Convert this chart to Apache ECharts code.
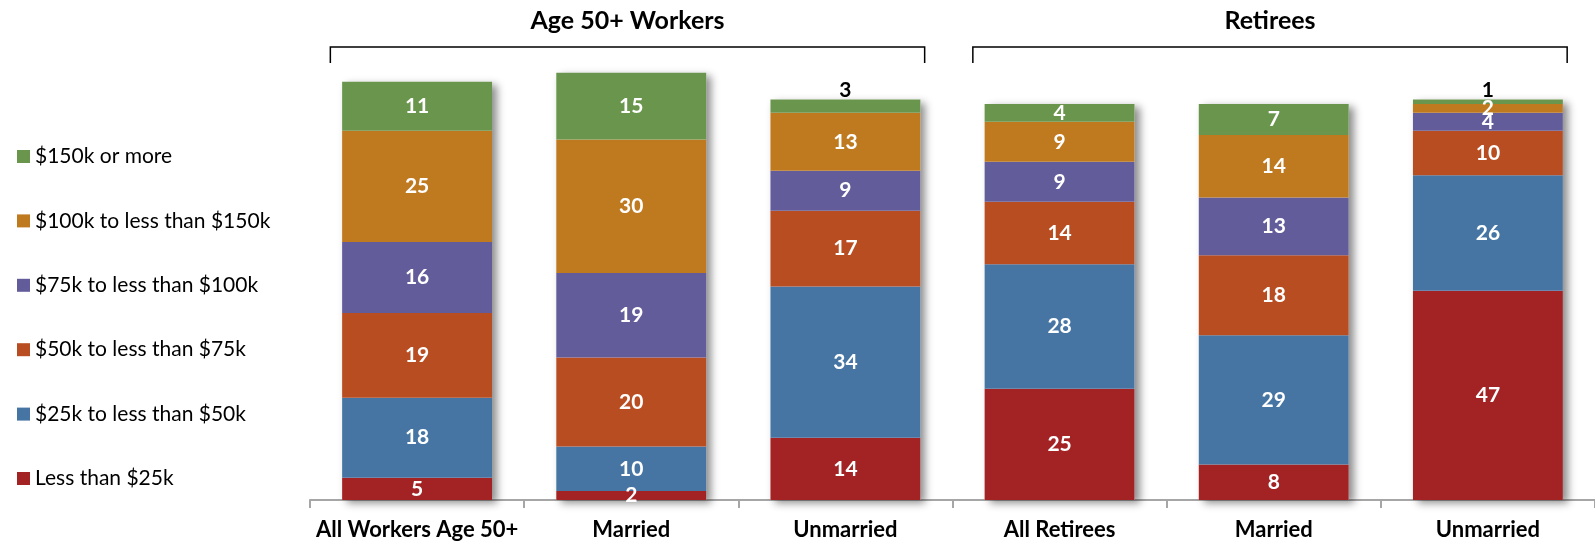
<!DOCTYPE html>
<html>
<head>
<meta charset="utf-8">
<script src="https://cdn.jsdelivr.net/npm/echarts@6/dist/echarts.min.js"></script>
<style>
  html, body { margin: 0; padding: 0; background: #ffffff; }
  #chart { width: 1595px; height: 545px; }
</style>
</head>
<body>
<div id="chart"></div>
<script>
// Household income distribution (%), by group
const categories = ['All Workers Age 50+', 'Married', 'Unmarried', 'All Retirees', 'Married', 'Unmarried'];

const lessThan25k  = [5, 2, 14, 25, 8, 47];
const from25to50k  = [18, 10, 34, 28, 29, 26];
const from50to75k  = [19, 20, 17, 14, 18, 10];
const from75to100k = [16, 19, 9, 9, 13, 4];
const from100to150k = [25, 30, 13, 9, 14, 2];
const over150k     = [11, 15, 3, 4, 7, 1];

const seriesNames = [
  'Less than $25k',
  '$25k to less than $50k',
  '$50k to less than $75k',
  '$75k to less than $100k',
  '$100k to less than $150k',
  '$150k or more'
];
const seriesValues = [lessThan25k, from25to50k, from50to75k, from75to100k, from100to150k, over150k];
const seriesColors = ['#a32325', '#4675a4', '#b94d22', '#625c9b', '#bf7a1f', '#6a954c'];

// Group headers with the category index range they span
const groupNames = ['Age 50+ Workers', 'Retirees'];
const groupRanges = [[0, 2], [3, 5]];

const FONT = 'Lato, "Noto Sans", sans-serif';

const totals = categories.map((_, i) => seriesValues.reduce((s, arr) => s + arr[i], 0));

const chart = echarts.init(document.getElementById('chart'), null, { renderer: 'canvas' });

const stackSeries = seriesNames.map((name, k) => {
  const isTop = k === seriesNames.length - 1;
  return {
    name: name,
    type: 'bar',
    stack: 'income',
    barWidth: '70%',
    z: 3,
    itemStyle: { color: seriesColors[k] },
    label: {
      show: true,
      position: 'inside',
      color: '#ffffff',
      fontFamily: FONT,
      fontWeight: 'bold',
      fontSize: 21
    },
    data: seriesValues[k].map(v => {
      // very thin top segments carry their value above the bar
      if (isTop && v < 4) {
        return { value: v, label: { position: 'top', distance: -1, color: '#000000' } };
      }
      return v;
    })
  };
});

// Backing bar carrying the drop shadow behind each stacked column
const shadowSeries = {
  name: 'shadow',
  type: 'bar',
  barWidth: '70%',
  barGap: '-100%',
  z: 1,
  silent: true,
  itemStyle: {
    color: '#ffffff',
    shadowColor: 'rgba(0,0,0,0.45)',
    shadowBlur: 8,
    shadowOffsetX: 5,
    shadowOffsetY: 3
  },
  label: { show: false },
  data: totals
};

const option = {
  animation: false,
  backgroundColor: '#ffffff',
  grid: { left: 310, top: 55, width: 1287, bottom: 45, containLabel: false },
  legend: {
    orient: 'vertical',
    left: 12,
    top: 141,
    itemWidth: 13,
    itemHeight: 13,
    itemGap: 43.4,
    icon: 'rect',
    data: seriesNames.slice().reverse(),
    textStyle: { fontFamily: FONT, fontSize: 21, color: '#000000', lineHeight: 20 }
  },
  xAxis: {
    type: 'category',
    data: categories,
    axisLine: { show: true, lineStyle: { color: '#a6a6a6', width: 2 } },
    axisTick: { show: true, alignWithLabel: false, length: 8, lineStyle: { color: '#a6a6a6', width: 2 } },
    axisLabel: {
      interval: 0,
      margin: 19,
      color: '#000000',
      fontFamily: FONT,
      fontWeight: 'bold',
      fontSize: 22
    }
  },
  yAxis: {
    type: 'value',
    min: 0,
    max: 100,
    show: false,
    splitLine: { show: false }
  },
  series: [shadowSeries].concat(stackSeries)
};

chart.setOption(option);

// Brackets and group headers above the columns
function buildGroupGraphics() {
  const graphics = [];
  const catW = chart.convertToPixel({ xAxisIndex: 0 }, 1) - chart.convertToPixel({ xAxisIndex: 0 }, 0);
  const yTop = chart.convertToPixel({ yAxisIndex: 0 }, 100);
  const lineY = yTop - 8;
  const tipY = lineY + 16;
  groupRanges.forEach((rng, g) => {
    const x0 = chart.convertToPixel({ xAxisIndex: 0 }, rng[0]) - catW * 0.405;
    const x1 = chart.convertToPixel({ xAxisIndex: 0 }, rng[1]) + catW * 0.37;
    graphics.push({
      type: 'polyline',
      shape: { points: [[x0, tipY], [x0, lineY], [x1, lineY], [x1, tipY]] },
      style: { stroke: '#000000', lineWidth: 1.5, fill: null }
    });
    graphics.push({
      type: 'text',
      x: (x0 + x1) / 2,
      y: 21,
      style: {
        text: groupNames[g],
        fill: '#000000',
        font: 'bold 25px ' + FONT,
        textAlign: 'center',
        textVerticalAlign: 'middle'
      }
    });
  });
  return graphics;
}

chart.setOption({ graphic: buildGroupGraphics() });
</script>
</body>
</html>
